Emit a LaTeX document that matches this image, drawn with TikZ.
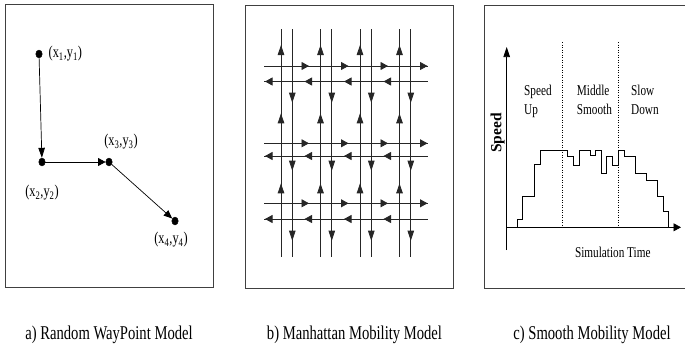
\documentclass[tikz,border=0pt]{standalone}
\usepackage{fontspec}
\setmainfont[FakeStretch=0.75]{Liberation Serif}
\newfontfamily\fullwidthfont{Liberation Serif}
\usetikzlibrary{arrows.meta}
\usetikzlibrary{shapes.geometric,positioning}

\tikzset{
  panel/.style={draw=black!75, line width=0.9pt},
  waypoint/.style={draw, ellipse, fill=black, inner sep=0pt, minimum width=6.5pt, minimum height=8pt},
  ptlabel/.style={font=\fontsize{16.5}{18}\selectfont, inner sep=1pt},
  phase/.style={font=\fontsize{15}{19}\selectfont, align=left, inner sep=0pt},
  caption/.style={font=\fontsize{19.5}{22}\selectfont, inner sep=0pt},
  hhead/.style={-{Triangle[length=7.5pt,width=8pt]}},
  vhead/.style={-{Triangle[length=10pt,width=6.5pt]}},
  dhead/.style={-{Triangle[length=8.5pt,width=7pt]}},
  road/.style={line width=0.8pt, black!85},
  move/.style={line width=0.7pt}
}

\begin{document}
\begin{tikzpicture}[x=1pt, y=-1pt]
  \useasboundingbox (0,0) rectangle (685,362);

  % frames of the three panels
  \draw[panel] (5,4) rectangle (213,287);
  \draw[panel] (245,5) rectangle (453,288);
  \draw[panel] (692,5) -- (484,5) -- (484,288) -- (692,288);

  % a) random waypoint
  \node[waypoint] (p1) at (39,54) {};
  \node[waypoint] (p2) at (42,162) {};
  \node[waypoint] (p3) at (109,162) {};
  \node[waypoint] (p4) at (175,221) {};
  \node[ptlabel, right=5pt of p1] (l1) {(x\textsubscript{1},y\textsubscript{1})};
  \node[ptlabel] (l2) at (42,193) {(x\textsubscript{2},y\textsubscript{2})};
  \node[ptlabel] (l3) at (121,142) {(x\textsubscript{3},y\textsubscript{3})};
  \node[ptlabel] (l4) at (171,240) {(x\textsubscript{4},y\textsubscript{4})};
  \draw[move, vhead] (p1) -- (p2);
  \draw[move, hhead] (p2) -- (p3);
  \draw[move, dhead] (p3) -- (p4);

  % b) manhattan grid: roads first, then the heads on them
  \foreach \k in {0,...,3} {
    \draw[road] ({281+39.5*\k},29) -- ({281+39.5*\k},257);
    \draw[road] ({292.3+39.5*\k},29) -- ({292.3+39.5*\k},257);
  }
  \foreach \yt/\yb in {66/81.5, 143.3/156, 203.3/219} {
    \draw[road] (264,\yt) -- (428,\yt);
    \draw[road] (264,\yb) -- (428,\yb);
  }
  \foreach \k in {0,...,3} {
    \foreach \yt/\yb in {66/81.5, 143.3/156, 203.3/219} {
      \draw[road, hhead] ({299+39.5*\k},\yt) -- ({309+39.5*\k},\yt);
      \draw[road, hhead] ({275+39.5*\k},\yb) -- ({265+39.5*\k},\yb);
    }
    \foreach \yu/\yd in {45/102.7, 113.3/170.7, 183.3/240.7} {
      \draw[road, vhead] ({281+39.5*\k},{\yu+12}) -- ({281+39.5*\k},\yu);
      \draw[road, vhead] ({292.3+39.5*\k},{\yd-12}) -- ({292.3+39.5*\k},\yd);
    }
  }

  % c) smooth model
  \draw[move, vhead] (506.7,250) -- (506.7,47);
  \draw[move, hhead] (506.7,227.3) -- (681,227.3);
  \draw[dotted, line width=0.5pt] (562.3,42) -- (562.3,227.3);
  \draw[dotted, line width=0.5pt] (618.3,42) -- (618.3,227.3);
  \draw[line width=0.8pt] (517.3,227.3)
    \foreach \x/\y in {522.3/219.3, 534.3/196.7, 540/164.3, 567.7/150.7, 573.3/156.7,
      579/165, 590/150.7, 595.7/155, 601/150.7, 606.7/173.3, 612.3/156.7, 618.3/165,
      624/150.7, 635/156.7, 646.7/173.3, 657.3/180.7, 663.3/196, 668.3/211} {|- (\x,\y)}
    -- (668.3,227.3);
  \node[phase, anchor=north west] (speedup) at (524,85) {Speed\\Up};
  \node[phase, anchor=north west] (middle) at (576.7,85) {Middle\\Smooth};
  \node[phase, anchor=north west] (slowdown) at (631,85) {Slow\\Down};
  \node[phase] (simtime) at (612.8,252) {Simulation Time};
  \node[rotate=90, font=\fullwidthfont\bfseries\fontsize{15.5}{17}\selectfont] (speedaxis) at (497.7,133) {Speed};

  % captions
  \node[caption, anchor=base] (capa) at (109,339) {a) Random WayPoint Model};
  \node[caption, anchor=base] (capb) at (354.5,339) {b) Manhattan Mobility Model};
  \node[caption, anchor=base] (capc) at (592,339) {c) Smooth Mobility Model};
\end{tikzpicture}
\end{document}
